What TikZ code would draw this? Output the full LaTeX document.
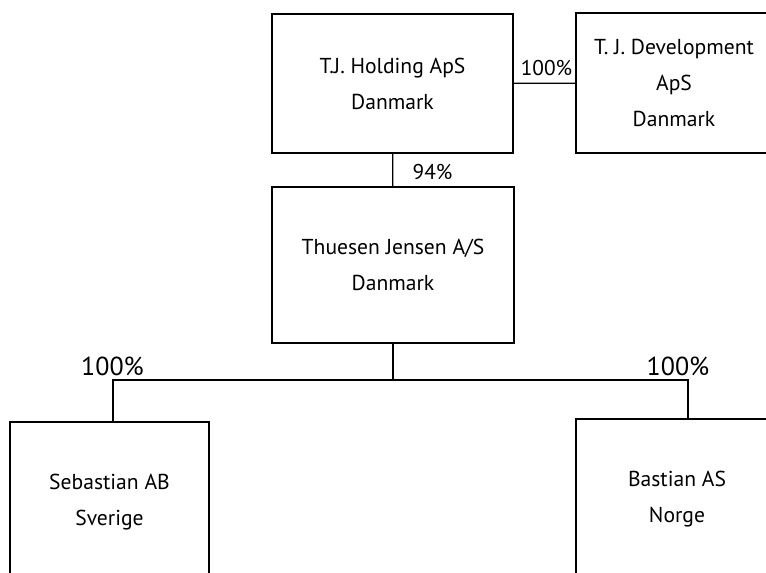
\documentclass[tikz,border=0pt]{standalone}
\usepackage{fontspec}
\setmainfont{PT Sans}
\usetikzlibrary{positioning}

\begin{document}
\begin{tikzpicture}[x=0.75pt,y=-0.75pt,
        firm/.style={shape=rectangle,draw=black,line width=1pt,fill=white,align=center,inner sep=0pt,font=\fontsize{16.2}{27}\selectfont},
        share/.style={inner sep=0pt,font=\fontsize{16}{18}\selectfont},
        bigshare/.style={inner sep=0pt,font=\fontsize{19.5}{22}\selectfont}]
        \useasboundingbox (0,0) rectangle (766,572);
        \clip (0,0) rectangle (766,572);

        \node (hold) at (392.5,83.5) [firm,minimum width=180.75pt,minimum height=104.25pt] {T.J. Holding ApS\\Danmark};
        \node (dev) at (674,83) [firm,minimum width=147pt,minimum height=105pt] {T. J. Development\\ApS\\Danmark};
        \node (thj) at (393,265) [firm,minimum width=181.5pt,minimum height=117pt] {Thuesen Jensen A/S\\Danmark};
        \node (seb) at (109.5,502) [firm,minimum width=149.25pt,minimum height=120pt] {Sebastian AB\\Sverige};
        \node (bas) at (677,499.5) [firm,minimum width=151.5pt,minimum height=120.75pt] {Bastian AS\\Norge};

        \coordinate (bus) at (393,380);
        \coordinate (busL) at (113,380);
        \coordinate (busR) at (688,380);

        \draw[line width=1pt] (hold) -- (dev);
        \draw[line width=1pt] (hold) -- (thj);
        \draw[line width=1pt] (thj.south) -- (bus);
        \draw[line width=1pt] (seb.north -| busL) -- (busL) -- (busR) -- (bas.north -| busR);

        \node (pdev) at (546.5,68) [share] {100\%};
        \node (pthj) at (432.5,172) [share] {94\%};
        \node (pseb) at (112.5,366) [bigshare] {100\%};
        \node (pbas) at (678,366) [bigshare] {100\%};
    \end{tikzpicture}
\end{document}
